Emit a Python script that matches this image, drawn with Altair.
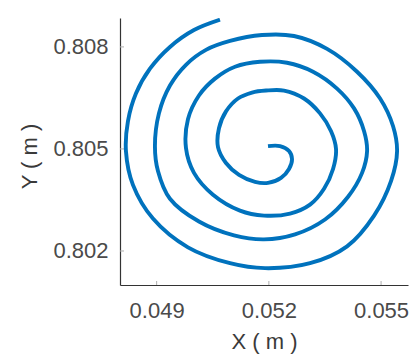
import altair as alt
import pandas as pd

# Spiral trajectory, traced from the inner hook outwards (metres)
x_m = [
    0.051977, 0.052298, 0.052539, 0.052619, 0.052539, 0.052325, 0.051977, 0.051630,
    0.051202, 0.050854, 0.050640, 0.050666, 0.050854, 0.051175, 0.051549, 0.051924,
    0.052405, 0.052940, 0.053368, 0.053663, 0.053796, 0.053716, 0.053475, 0.053101,
    0.052566, 0.051870, 0.051228, 0.050506, 0.049998, 0.049784, 0.049837, 0.050131,
    0.050559, 0.051095, 0.051763, 0.052486, 0.053181, 0.053823, 0.054278, 0.054546,
    0.054626, 0.054492, 0.054118, 0.053502, 0.052700, 0.051870, 0.051068, 0.050131,
    0.049356, 0.049035, 0.048954, 0.049061, 0.049356, 0.049784, 0.050319, 0.050961,
    0.051817, 0.052673, 0.053556, 0.054358, 0.054974, 0.055321, 0.055428, 0.055268,
    0.054813, 0.054091, 0.053101, 0.051897, 0.050961, 0.049837, 0.048901, 0.048366,
    0.048179, 0.048232, 0.048446, 0.048821, 0.049356, 0.049998, 0.050693,
]
y_m = [
    0.805083, 0.805083, 0.804937, 0.804704, 0.804412, 0.804150, 0.804004, 0.804033,
    0.804237, 0.804587, 0.805054, 0.805608, 0.806104, 0.806483, 0.806658, 0.806717,
    0.806717, 0.806483, 0.806046, 0.805521, 0.804996, 0.804412, 0.803829, 0.803362,
    0.803100, 0.803041, 0.803187, 0.803654, 0.804296, 0.805025, 0.805871, 0.806571,
    0.807067, 0.807417, 0.807563, 0.807534, 0.807271, 0.806775, 0.806192, 0.805521,
    0.804937, 0.804296, 0.803595, 0.802925, 0.802487, 0.802341, 0.802458, 0.802866,
    0.803537, 0.804354, 0.805083, 0.806046, 0.806863, 0.807475, 0.807913, 0.808175,
    0.808350, 0.808321, 0.807942, 0.807271, 0.806483, 0.805667, 0.804937, 0.804062,
    0.803041, 0.802137, 0.801641, 0.801495, 0.801641, 0.802108, 0.802954, 0.803945,
    0.804937, 0.805813, 0.806629, 0.807359, 0.808000, 0.808496, 0.808800,
]

x_ticks = [0.049, 0.052, 0.055]
y_ticks = [0.802, 0.805, 0.808]

x_domain = [0.04802, 0.05572]
y_domain = [0.80100, 0.80885]

W, H = 288, 267
FONT = "Liberation Sans"

path = pd.DataFrame({"i": range(len(x_m)), "x": x_m, "y": y_m})

xs = alt.Scale(domain=x_domain, nice=False, zero=False)
ys = alt.Scale(domain=y_domain, nice=False, zero=False)

x_axis = alt.Axis(
    values=x_ticks, format=".3f", ticks=False, grid=False,
    domainColor="#333333", domainWidth=1.2,
    labelFont=FONT, labelFontSize=22, labelColor="#4a4a4a", labelPadding=15,
    title="X ( m )", titleFont=FONT, titleFontSize=22, titleFontWeight="normal",
    titleColor="#3a3a3a", titleY=63, titleBaseline="alphabetic",
)
y_axis = alt.Axis(
    values=y_ticks, format=".3f", ticks=False, grid=False,
    domainColor="#333333", domainWidth=1.2,
    labelFont=FONT, labelFontSize=22, labelColor="#4a4a4a", labelPadding=12,
    title="Y ( m )", titleFont=FONT, titleFontSize=22, titleFontWeight="normal",
    titleColor="#3a3a3a", titleX=-84, titleY=138, titleAngle=270,
    titleAlign="center", titleBaseline="alphabetic",
)

spiral = alt.Chart(path).mark_line(
    color="#0072BD", strokeWidth=3.9, interpolate="catmull-rom", clip=True
).encode(
    x=alt.X("x:Q", scale=xs, axis=x_axis),
    y=alt.Y("y:Q", scale=ys, axis=y_axis),
    order="i:O",
)

# small inward tick marks on both axes
xt = alt.Chart(pd.DataFrame({"v": x_ticks})).mark_rule(color="#b0b0b0", strokeWidth=1).encode(
    x=alt.X("v:Q", scale=xs), y=alt.value(H), y2=alt.value(H - 4)
)
yt = alt.Chart(pd.DataFrame({"v": y_ticks})).mark_rule(color="#b0b0b0", strokeWidth=1).encode(
    y=alt.Y("v:Q", scale=ys), x=alt.value(0), x2=alt.value(4)
)

chart = alt.layer(xt, yt, spiral).properties(
    width=W, height=H,
    autosize=alt.AutoSizeParams(type="none"),
    padding={"left": 120, "top": 18, "right": 1, "bottom": 71},
    background="white",
).configure_view(stroke=None)

chart.save("out.html", embed_options={"renderer": "svg", "actions": False})
